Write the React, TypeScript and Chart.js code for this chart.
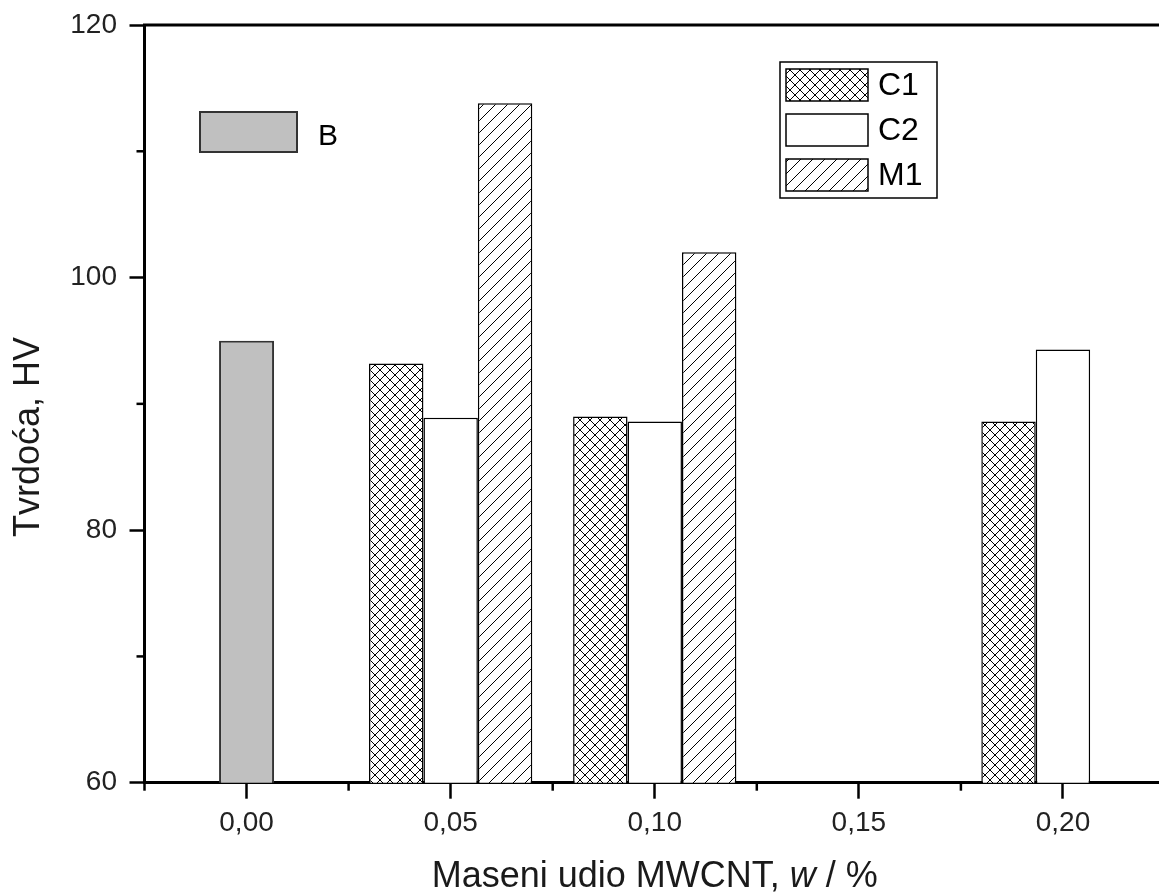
import React, { useEffect, useRef } from 'react';
import { Chart, registerables } from 'chart.js';

Chart.register(...registerables);

const categories = ['0,00', '0,05', '0,10', '0,15', '0,20'];
const seriesB = [95.0, null, null, null, null];
const seriesC1 = [null, 93.2, 89.0, null, 88.6];
const seriesC2 = [null, 88.9, 88.6, null, 94.3];
const seriesM1 = [null, 113.8, 102.0, null, null];
const yMin = 60;
const yMax = 120;
const yStep = 20;
const yMinorTicks = [70, 90, 110];
const legendLabels = ['C1', 'C2', 'M1'];
const xTitleParts = [
  { text: 'Maseni udio MWCNT, ', italic: false },
  { text: 'w', italic: true },
  { text: ' / %', italic: false },
];
const yTitle = 'Tvrdoća, HV';

const FONT = '"Liberation Sans", Arial, sans-serif';

function makeCrossTile(): HTMLCanvasElement {
  const c = document.createElement('canvas');
  c.width = 10;
  c.height = 10;
  const g = c.getContext('2d')!;
  g.fillStyle = '#fff';
  g.fillRect(0, 0, 10, 10);
  g.strokeStyle = '#000';
  g.lineWidth = 1;
  g.beginPath();
  g.moveTo(0, 0);
  g.lineTo(10, 10);
  g.moveTo(0, 10);
  g.lineTo(10, 0);
  g.stroke();
  return c;
}

function makeDiagTile(): HTMLCanvasElement {
  const s = 12;
  const c = document.createElement('canvas');
  c.width = s;
  c.height = s;
  const g = c.getContext('2d')!;
  g.fillStyle = '#fff';
  g.fillRect(0, 0, s, s);
  g.strokeStyle = '#000';
  g.lineWidth = 1;
  g.beginPath();
  g.moveTo(0, s);
  g.lineTo(s, 0);
  g.moveTo(-2, 2);
  g.lineTo(2, -2);
  g.moveTo(s - 2, s + 2);
  g.lineTo(s + 2, s - 2);
  g.stroke();
  return c;
}

const decorPlugin = {
  id: 'decor',
  afterDraw(chart: any) {
    const ctx: CanvasRenderingContext2D = chart.ctx;
    const { left, right, top, bottom } = chart.chartArea;
    const xs = chart.scales.x;
    const ys = chart.scales.y;
    ctx.save();
    ctx.strokeStyle = '#000';
    // top frame line
    ctx.lineWidth = 3;
    ctx.beginPath();
    ctx.moveTo(left - 1.5, top);
    ctx.lineTo(right, top);
    ctx.stroke();
    // minor ticks
    ctx.lineWidth = 2.5;
    const step = xs.getPixelForValue(1) - xs.getPixelForValue(0);
    for (let i = 0; i <= categories.length; i++) {
      const px = xs.getPixelForValue(0) - step / 2 + i * step;
      ctx.beginPath();
      ctx.moveTo(px, bottom);
      ctx.lineTo(px, bottom + 8);
      ctx.stroke();
    }
    yMinorTicks.forEach((v) => {
      const py = ys.getPixelForValue(v);
      ctx.beginPath();
      ctx.moveTo(left, py);
      ctx.lineTo(left - 8, py);
      ctx.stroke();
    });

    // axis titles
    ctx.fillStyle = '#1a1a1a';
    ctx.textBaseline = 'middle';
    ctx.font = `36px ${FONT}`;
    ctx.save();
    ctx.translate(29, 437);
    ctx.rotate(-Math.PI / 2);
    ctx.textAlign = 'center';
    ctx.fillText(yTitle, 0, 0);
    ctx.restore();

    let total = 0;
    const widths = xTitleParts.map((p) => {
      ctx.font = `${p.italic ? 'italic ' : ''}36px ${FONT}`;
      const w = ctx.measureText(p.text).width;
      total += w;
      return w;
    });
    let cx = (left + right) / 2 - total / 2;
    ctx.textAlign = 'left';
    xTitleParts.forEach((p, i) => {
      ctx.font = `${p.italic ? 'italic ' : ''}36px ${FONT}`;
      ctx.fillText(p.text, cx, 877);
      cx += widths[i];
    });

    // legend for C1, C2, M1
    const ds = chart.data.datasets;
    ctx.lineWidth = 1.5;
    ctx.strokeStyle = '#000';
    ctx.strokeRect(780, 62, 157, 136);
    const rowsY = [69, 114, 159];
    legendLabels.forEach((lab, i) => {
      const d = ds[i + 1];
      ctx.fillStyle = d.backgroundColor;
      ctx.fillRect(786, rowsY[i], 82, 32);
      ctx.lineWidth = 1.5;
      ctx.strokeStyle = '#000';
      ctx.strokeRect(786, rowsY[i], 82, 32);
      ctx.fillStyle = '#000';
      ctx.font = `32px ${FONT}`;
      ctx.textAlign = 'left';
      ctx.textBaseline = 'middle';
      ctx.fillText(lab, 878, rowsY[i] + 17);
    });

    // legend for B
    const dB = ds[0];
    ctx.fillStyle = dB.backgroundColor;
    ctx.fillRect(200, 112, 97, 40);
    ctx.lineWidth = 2;
    ctx.strokeStyle = '#333';
    ctx.strokeRect(200, 112, 97, 40);
    ctx.fillStyle = '#000';
    ctx.font = `30px ${FONT}`;
    ctx.textAlign = 'left';
    ctx.fillText(dB.label, 318, 137);
    ctx.restore();
  },
};

export default function App() {
  const canvasRef = useRef<HTMLCanvasElement | null>(null);

  useEffect(() => {
    const canvas = canvasRef.current;
    if (!canvas) return;
    const ctx = canvas.getContext('2d')!;
    const crossPattern = ctx.createPattern(makeCrossTile(), 'repeat');
    const diagPattern = ctx.createPattern(makeDiagTile(), 'repeat');

    const chart = new Chart(canvas, {
      type: 'bar',
      data: {
        labels: categories,
        datasets: [
          {
            label: 'B',
            data: seriesB,
            backgroundColor: '#c0c0c0',
            borderColor: '#333',
            borderWidth: 2,
            grouped: false,
            maxBarThickness: 55,
          } as any,
          {
            label: 'C1',
            data: seriesC1,
            backgroundColor: crossPattern,
            borderColor: '#000',
            borderWidth: 1.5,
          },
          {
            label: 'C2',
            data: seriesC2,
            backgroundColor: '#ffffff',
            borderColor: '#000',
            borderWidth: 1.5,
          },
          {
            label: 'M1',
            data: seriesM1,
            backgroundColor: diagPattern,
            borderColor: '#000',
            borderWidth: 1.5,
          },
        ],
      },
      options: {
        responsive: false,
        animation: false,
        devicePixelRatio: 1,
        categoryPercentage: 0.8,
        barPercentage: 1.0,
        layout: { padding: { top: 25, right: 1, left: 0, bottom: 0 } },
        plugins: {
          legend: { display: false },
          tooltip: { enabled: false },
          title: { display: false },
        },
        scales: {
          x: {
            type: 'category',
            offset: true,
            grid: {
              display: true,
              drawOnChartArea: false,
              drawTicks: true,
              offset: false,
              tickLength: 16,
              tickWidth: 2.5,
              tickColor: '#000',
            },
            border: { display: true, color: '#000', width: 3 },
            ticks: {
              color: '#222',
              font: { family: FONT, size: 28 },
              padding: 7.5,
              maxRotation: 0,
              autoSkip: false,
            },
            afterFit: (scale: any) => {
              scale.height = 111.3;
              scale.paddingLeft = 0;
              scale.paddingRight = 0;
            },
          },
          y: {
            min: yMin,
            max: yMax,
            grid: {
              display: true,
              drawOnChartArea: false,
              drawTicks: true,
              tickLength: 15,
              tickWidth: 2.5,
              tickColor: '#000',
            },
            border: { display: true, color: '#000', width: 3 },
            ticks: {
              stepSize: yStep,
              color: '#222',
              font: { family: FONT, size: 28 },
              padding: 12.5,
            },
            afterFit: (scale: any) => {
              scale.width = 144.5;
              scale.paddingTop = 0;
              scale.paddingBottom = 0;
            },
          },
        },
      },
      plugins: [decorPlugin],
    } as any);

    return () => {
      chart.destroy();
    };
  }, []);

  return (
    <div
      style={{
        position: 'fixed',
        left: 0,
        top: 0,
        width: 1159,
        height: 894,
        overflow: 'hidden',
        background: '#fff',
      }}
    >
      <canvas ref={canvasRef} width={1166} height={894} style={{ display: 'block', width: 1166, height: 894 }} />
    </div>
  );
}
